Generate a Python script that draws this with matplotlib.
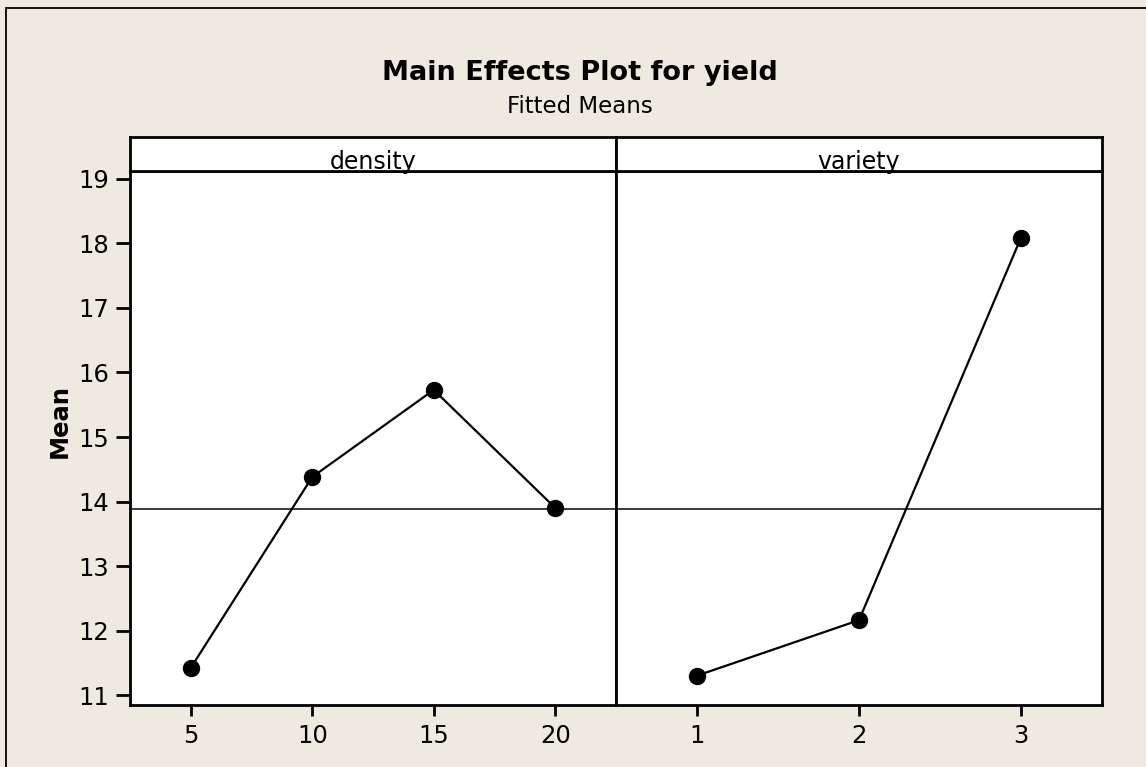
import matplotlib
matplotlib.use("Agg")
import matplotlib.pyplot as plt
from matplotlib.patches import Rectangle

# Factor levels and fitted means
density_levels = [5, 10, 15, 20]
density_means = [11.42, 14.38, 15.73, 13.90]
variety_levels = [1, 2, 3]
variety_means = [11.30, 12.16, 18.09]
grand_mean = 13.88

panel_names = ["density", "variety"]
y_ticks = [11, 12, 13, 14, 15, 16, 17, 18, 19]

BG = "#EEEAE0"
W, H = 1146, 767
plt.rcParams["font.family"] = ["DejaVu Sans"]

fig = plt.figure(figsize=(W / 100, H / 100), dpi=100, facecolor=BG)

# outer frame of the graph window
fig.patches.append(Rectangle((6 / W, -0.1), 1.2, 1 - 8 / H + 0.1,
                             transform=fig.transFigure, fill=False,
                             lw=1.3, edgecolor="black"))

x0, xm, x1 = 130 / W, 616 / W, 1102 / W
yb, yt, ys = 1 - 705 / H, 1 - 171 / H, 1 - 137 / H

ax1 = fig.add_axes([x0, yb, xm - x0, yt - yb])
ax2 = fig.add_axes([xm, yb, x1 - xm, yt - yb], sharey=ax1)

panels = [
    (ax1, density_levels, density_means, (2.5, 22.5)),
    (ax2, variety_levels, variety_means, (0.5, 3.5)),
]

for ax, lev, means, xl in panels:
    ax.set_facecolor("white")
    ax.axhline(grand_mean, color="#3a3a3a", lw=1.4, zorder=1)
    ax.plot(lev, means, color="black", lw=1.6, marker="o", ms=11.5,
            mfc="black", mec="black", zorder=3)
    ax.set_xlim(*xl)
    ax.set_xticks(lev)
    for s in ax.spines.values():
        s.set_linewidth(2.0)
    ax.tick_params(axis="x", length=8, width=2, pad=6, labelsize=17.5)
    ax.tick_params(axis="y", length=10, width=2, pad=5, labelsize=17.5)

ax1.set_ylim(10.845, 19.124)
ax1.set_yticks(y_ticks)
ax2.tick_params(axis="y", left=False, labelleft=False)
ax1.set_ylabel("Mean", fontsize=17.5, fontweight="bold")
ax1.yaxis.set_label_coords(-0.12, (yt - yb + (ys - yt)) / 2 / (yt - yb))

# strip headers
for (left, right), name in zip([(x0, xm), (xm, x1)], panel_names):
    sax = fig.add_axes([left, yt, right - left, ys - yt])
    sax.set_facecolor("white")
    sax.set_xticks([])
    sax.set_yticks([])
    for s in sax.spines.values():
        s.set_linewidth(2.0)
    sax.text(0.5, 0.07, name, ha="center", va="baseline", fontsize=17,
             transform=sax.transAxes)

fig.text(0.506, 1 - 80 / H, "Main Effects Plot for yield", ha="center",
         va="baseline", fontsize=19.5, fontweight="bold")
fig.text(0.506, 1 - 113 / H, "Fitted Means", ha="center",
         va="baseline", fontsize=16.5)

fig.savefig("out.png", dpi=100, facecolor=BG)
